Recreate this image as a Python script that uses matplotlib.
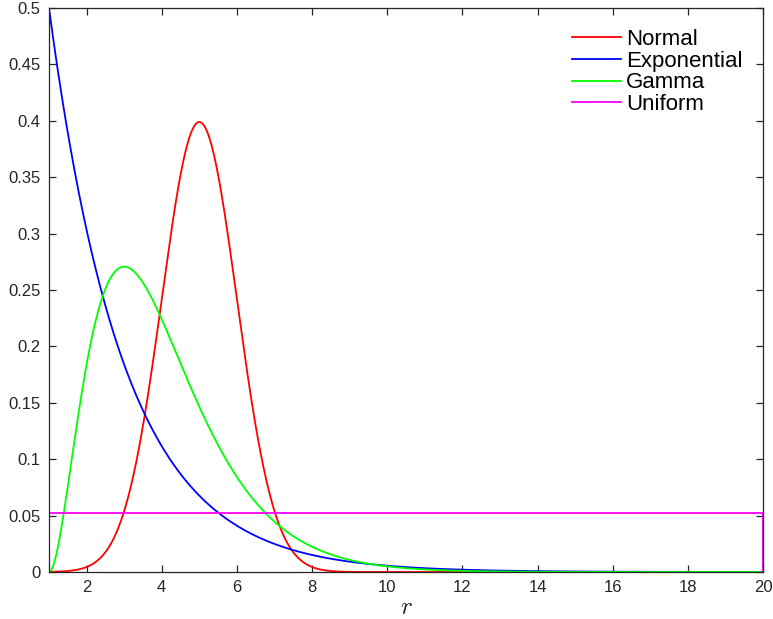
import numpy as np
import matplotlib
matplotlib.use("Agg")
import matplotlib.pyplot as plt

plt.rcParams['font.family'] = ['Liberation Sans', 'DejaVu Sans']
plt.rcParams['mathtext.fontset'] = 'cm'

# Support and distribution parameters
r_min, r_max = 1.0, 20.0
normal_mu, normal_sigma = 5.0, 1.0
exp_rate = 0.5
gamma_shape, gamma_scale = 3, 1.0
series_names = ["Normal", "Exponential", "Gamma", "Uniform"]
series_colors = ["#ff0000", "#0000ff", "#00ff00", "#ff00ff"]

x_ticks = [2, 4, 6, 8, 10, 12, 14, 16, 18, 20]
y_ticks = [0, 0.05, 0.1, 0.15, 0.2, 0.25, 0.3, 0.35, 0.4, 0.45, 0.5]
y_ticklabels = ["0", "0.05", "0.1", "0.15", "0.2", "0.25", "0.3", "0.35", "0.4", "0.45", "0.5"]

r = np.linspace(r_min, r_max, 2000)
t = r - r_min

normal_pdf = np.exp(-0.5 * ((r - normal_mu) / normal_sigma) ** 2) / (normal_sigma * np.sqrt(2 * np.pi))
exp_pdf = exp_rate * np.exp(-exp_rate * t)
gamma_pdf = t ** (gamma_shape - 1) * np.exp(-t / gamma_scale) / (2.0 * gamma_scale ** gamma_shape)
uniform_level = 1.0 / (r_max - r_min)
uniform_x = [r_min, r_max, r_max]
uniform_y = [uniform_level, uniform_level, 0.0]

W, H = 773, 619
fig = plt.figure(figsize=(W / 100, H / 100), dpi=100)
ax = fig.add_axes([49 / W, 1 - 572 / H, (763 - 49) / W, (572 - 8) / H])

lw = 1.3
ax.plot(r, normal_pdf, color=series_colors[0], lw=lw, label=series_names[0])
ax.plot(r, exp_pdf, color=series_colors[1], lw=lw, label=series_names[1])
ax.plot(r, gamma_pdf, color=series_colors[2], lw=lw, label=series_names[2])
ax.plot(uniform_x, uniform_y, color=series_colors[3], lw=lw, label=series_names[3])

ax.set_xlim(r_min, r_max)
ax.set_ylim(0, 0.5)
ax.set_xticks(x_ticks)
ax.set_yticks(y_ticks)
ax.set_yticklabels(y_ticklabels)

edge = "#262626"
for s in ax.spines.values():
    s.set_color(edge)
    s.set_linewidth(0.9)
ax.tick_params(direction='in', top=True, right=True, length=5, width=0.9,
               colors=edge, labelsize=12, labelcolor=edge, pad=6)

ax.set_xlabel("$r$", fontsize=18, color=edge, labelpad=0)

leg = ax.legend(loc='upper left', frameon=False, fontsize=16,
                handlelength=2.2, handletextpad=0.23, labelspacing=0.03,
                borderpad=0, borderaxespad=0,
                bbox_to_anchor=(572 / W, 1 - 29 / H), bbox_transform=fig.transFigure)
for txt in leg.get_texts():
    txt.set_color("black")

fig.savefig("out.png", dpi=100)
